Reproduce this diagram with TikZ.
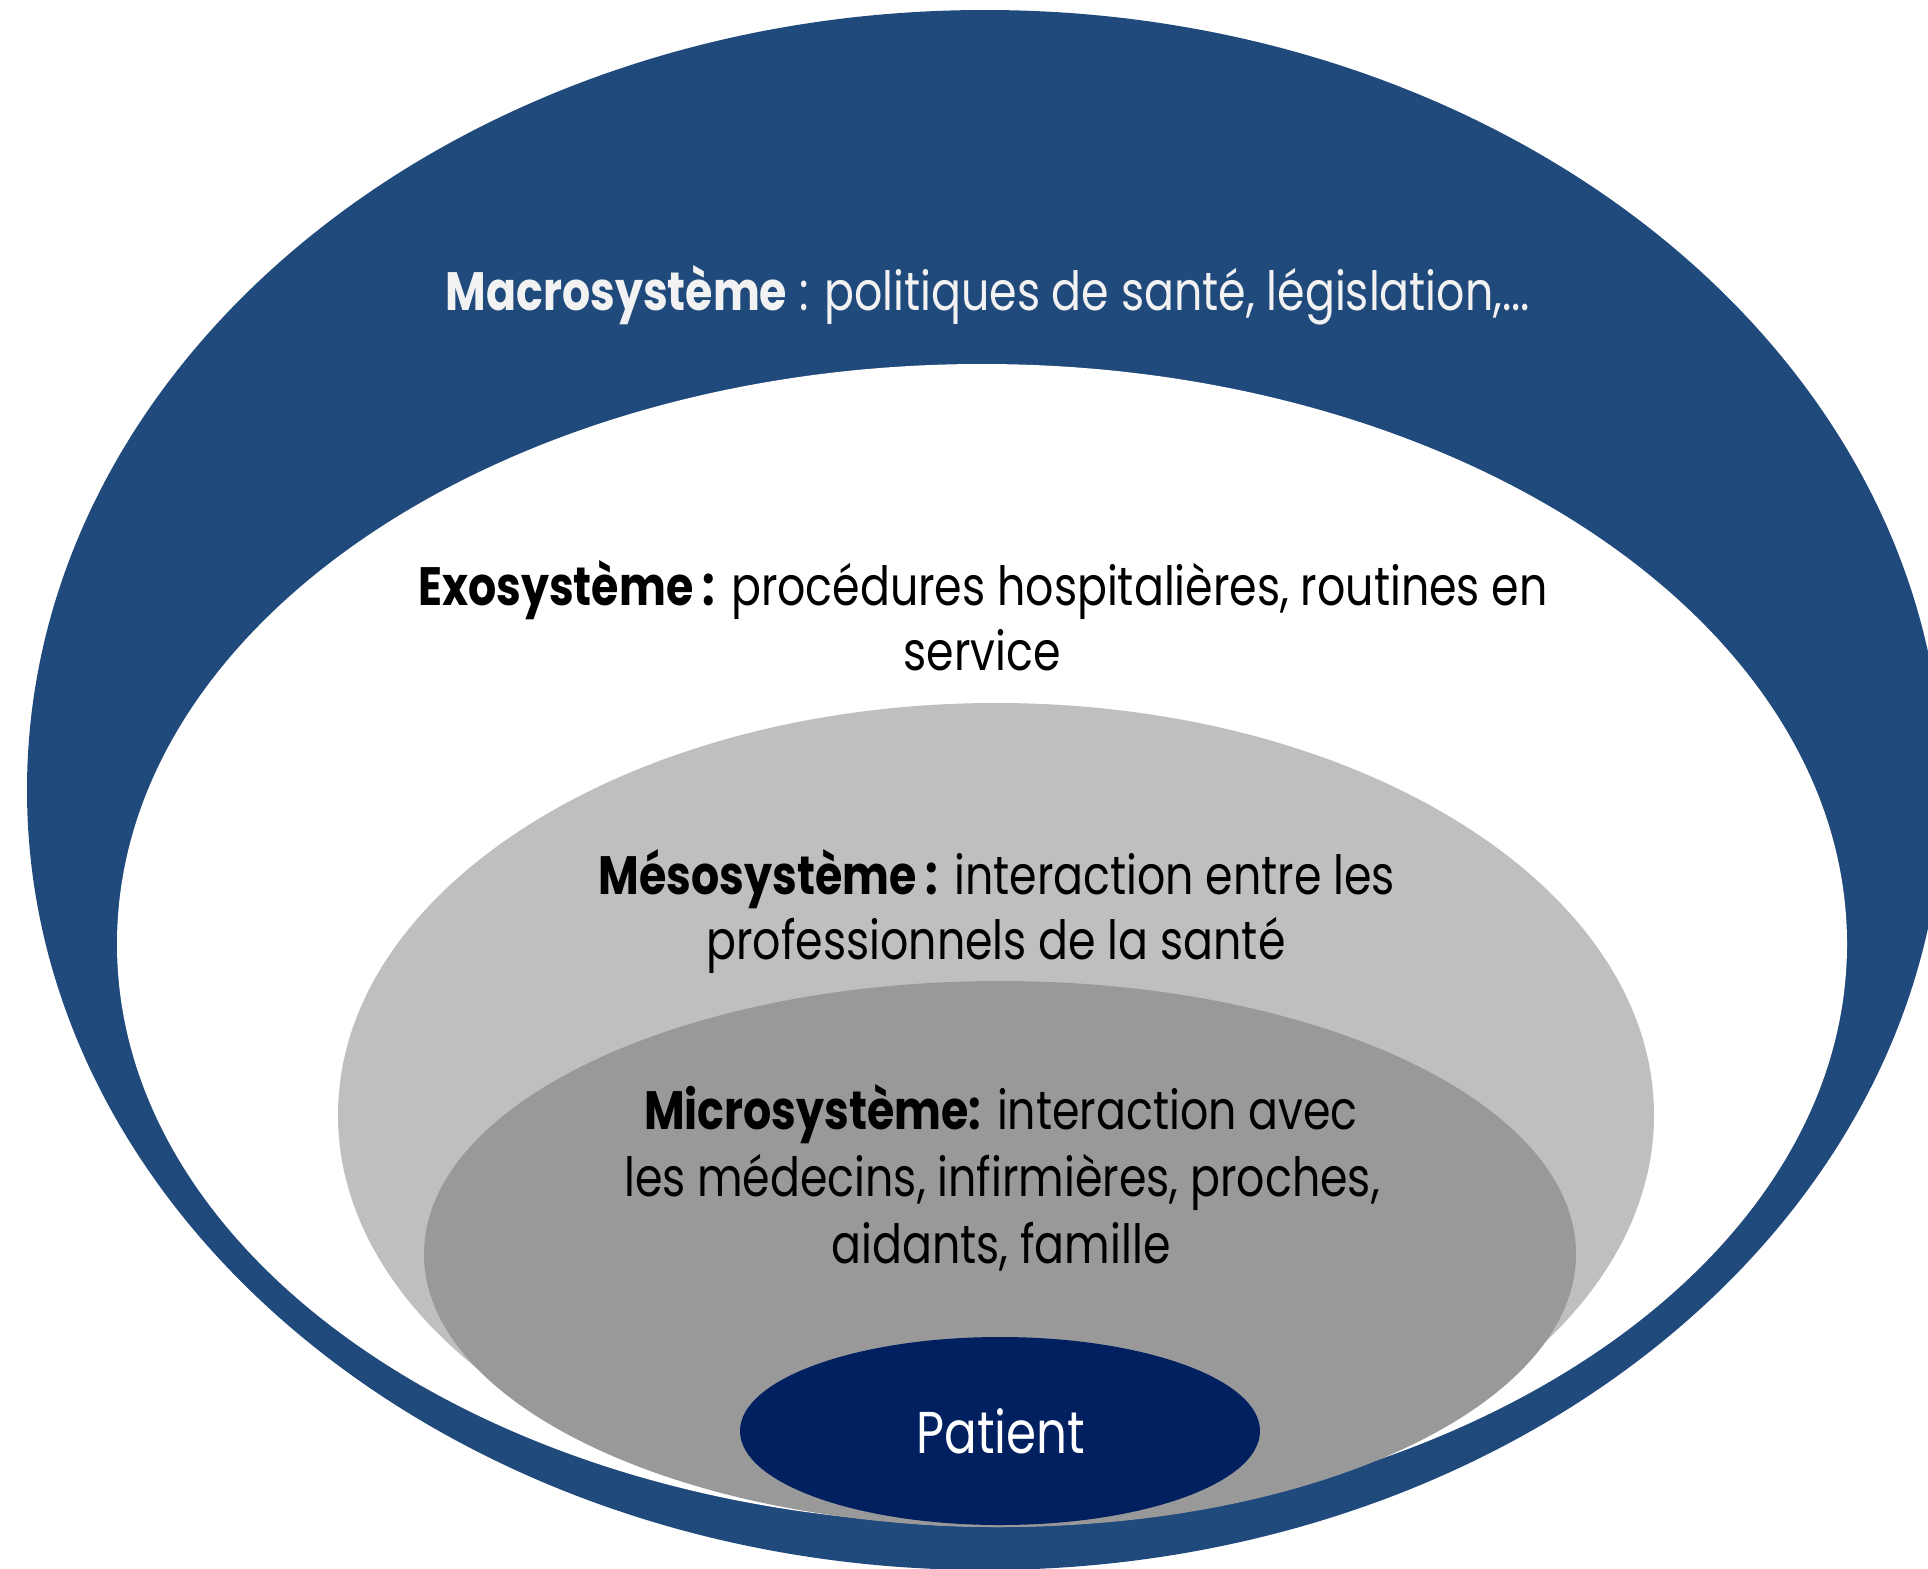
\documentclass[tikz,border=0pt]{standalone}
\usepackage{fontspec}
\setmainfont{Poppins}[FakeStretch=0.82]
\definecolor{macroblue}{RGB}{32,74,124}
\definecolor{mesogray}{RGB}{191,191,191}
\definecolor{microgray}{RGB}{153,153,153}
\definecolor{patientblue}{RGB}{0,32,96}
\definecolor{lighttext}{RGB}{242,242,242}
\begin{document}
\begin{tikzpicture}[x=0.5pt,y=-0.5pt,
  lbl/.style={anchor=base,inner sep=0pt,font=\fontsize{27}{33}\selectfont}]
\useasboundingbox (0,0) rectangle (1928,1569);
\clip (0,0) rectangle (1928,1569);
\fill[macroblue] (985,790) ellipse [x radius=479pt, y radius=390pt];
\fill[white] (982,944) ellipse [x radius=432.5pt, y radius=290pt];
\fill[mesogray] (996,1115) ellipse [x radius=329pt, y radius=206pt];
\fill[microgray] (1000,1254) ellipse [x radius=288pt, y radius=136.5pt];
\fill[patientblue] (1000,1431) ellipse [x radius=130pt, y radius=47pt];
\node[lbl,text=lighttext] (macro) at (988,310) {\textbf{Macrosystème} : politiques de santé, législation,...};
\node[lbl] (exo1) at (983,605) {\textbf{Exosystème :} procédures hospitalières, routines en};
\node[lbl] (exo2) at (982,670) {service};
\node[lbl] (meso1) at (997,894) {\textbf{Mésosystème :} interaction entre les};
\node[lbl] (meso2) at (996,959) {professionnels de la santé};
\node[lbl] (micro1) at (1001,1129) {\textbf{Microsystème:} interaction avec};
\node[lbl] (micro2) at (1002,1196) {les médecins, infirmières, proches,};
\node[lbl] (micro3) at (1001,1263) {aidants, famille};
\node[lbl,text=white,font=\fontsize{29.5}{33}\selectfont] (patient) at (1001,1453) {Patient};
\end{tikzpicture}
\end{document}
